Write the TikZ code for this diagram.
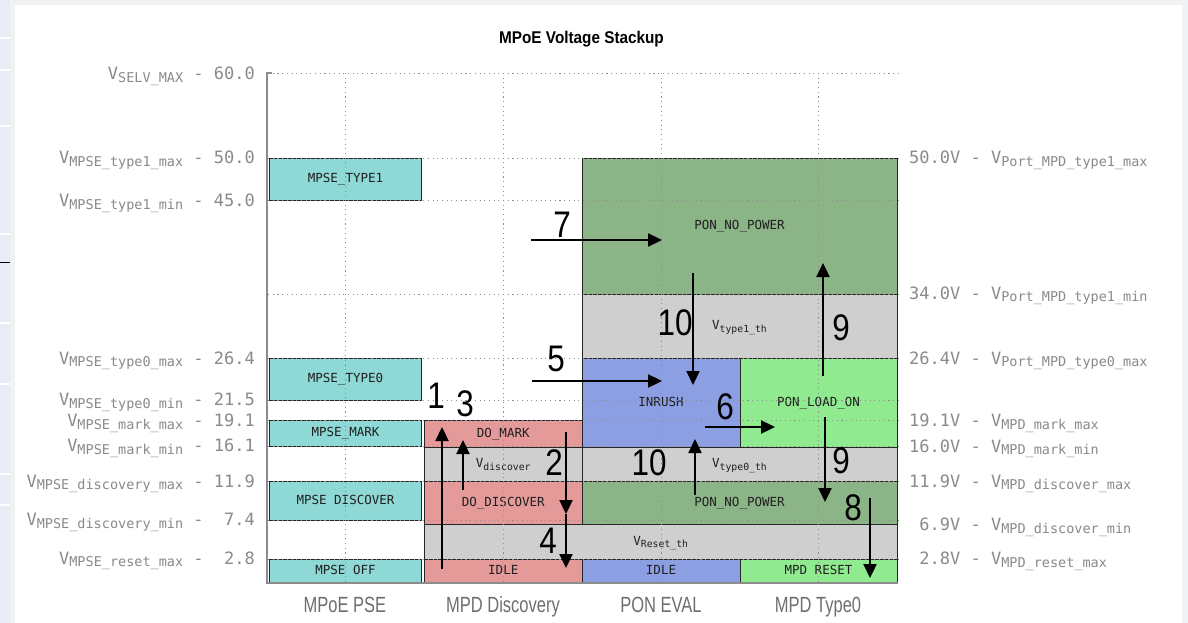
\documentclass[tikz,border=0pt]{standalone}
\usepackage{fontspec}
\usepackage{graphicx}
\setmainfont{Liberation Sans}
\newfontfamily\labelmono{DejaVu Sans Mono}
\usetikzlibrary{arrows.meta}

% fill colours of the state bands
\definecolor{pse}{HTML}{8ED9D6}
\definecolor{disc}{HTML}{E59A9A}
\definecolor{thr}{HTML}{CFCFCF}
\definecolor{nopwr}{HTML}{8BB487}
\definecolor{inr}{HTML}{8C9FE3}
\definecolor{loadon}{HTML}{90EA90}
% frame and text greys
\definecolor{axisgray}{HTML}{8C8C8C}
\definecolor{tickgray}{HTML}{8A8A8A}
\definecolor{gridgray}{HTML}{8F8F8F}
\definecolor{colgray}{HTML}{6E6E6E}
\definecolor{sidebar}{HTML}{E8ECF4}
\definecolor{pageframe}{HTML}{F1F2F4}

% subscripted voltage names
\newcommand{\subtxt}[1]{\raisebox{-2.7pt}{\fontsize{13.5}{14}\selectfont #1}}
\newcommand{\thsub}[1]{V\raisebox{-2.2pt}{\fontsize{9.8}{10}\selectfont #1}}

\tikzset{
  stbox/.style={draw=black!85, line width=0.9pt, inner sep=0pt,
    font=\labelmono\fontsize{12.5}{14}\selectfont, text=black!88,
    text height=9pt, text depth=2pt},
  leftlbl/.style={anchor=base east, inner sep=0pt, text=tickgray,
    font=\labelmono\fontsize{17}{20}\selectfont},
  rightlbl/.style={anchor=base west, inner sep=0pt, text=tickgray,
    font=\labelmono\fontsize{17}{20}\selectfont},
  collbl/.style={anchor=base, inner sep=0pt, text=colgray,
    font=\fontsize{22}{24}\selectfont},
  numlbl/.style={inner sep=0pt, font=\fontsize{37}{40}\selectfont},
  gridline/.style={gridgray, line width=0.9pt, dash pattern=on 1.1pt off 3.6pt},
  moveflow/.style={line width=2.3pt, -{Triangle[length=14pt,width=13pt]}},
}

% state band: name, colour, x1, y1, x2, y2, text
\newcommand\stband[7]{%
  \pgfmathsetmacro\bw{#5-#3}\pgfmathsetmacro\bh{#6-#4}%
  \pgfmathsetmacro\bx{(#3+#5)/2}\pgfmathsetmacro\by{(#4+#6)/2}%
  \node[stbox, fill=#2, minimum width=\bw pt, minimum height=\bh pt] (#1) at (\bx,\by) {#7};}

\begin{document}
\begin{tikzpicture}[x=1pt, y=-1pt]
\useasboundingbox (0,0) rectangle (1188,623);

% window frame
\fill[pageframe] (0,0) rectangle (1188,623);
\fill[white] (15,5) rectangle (1182,623);
\fill[sidebar] (0,0) rectangle (10,623);
\foreach \s in {37,69,125,233,322,383,473,504}
  \fill[white] (0,\s) rectangle (10,\s+2);
\draw[black, line width=1pt] (0,262) -- (10,262);

% title
\node[inner sep=0pt, anchor=base, font=\bfseries\fontsize{17}{20}\selectfont] (title)
  at (581.5,44) {\scalebox{0.9}[1]{MPoE Voltage Stackup}};

% MPoE PSE column
\stband{ptype1}{pse}{269.5}{158}{421.5}{200.5}{MPSE\_TYPE1}
\stband{ptype0}{pse}{269.5}{358.6}{421.5}{400.25}{MPSE\_TYPE0}
\stband{pmark}{pse}{269.5}{420.65}{421.5}{446.15}{MPSE\_MARK}
\stband{pdisc}{pse}{269.5}{481.85}{421.5}{520.1}{MPSE DISCOVER}
\stband{poff}{pse}{269.5}{559.2}{421.5}{583}{MPSE OFF}

% MPD Discovery column
\stband{domark}{disc}{424.5}{420.65}{582}{447}{DO\_MARK}
\stband{vdisc}{thr}{424.5}{447}{582}{481.85}{\thsub{discover}}
\stband{dodisc}{disc}{424.5}{481.85}{582}{524.35}{DO\_DISCOVER}
\stband{vreset}{thr}{424.5}{524.35}{897}{559.2}{\thsub{Reset\_th}}
\stband{idlea}{disc}{424.5}{559.2}{582}{583}{IDLE}

% PON EVAL and MPD Type0 columns
\stband{nopwra}{nopwr}{582}{158}{897}{294}{PON\_NO\_POWER}
\stband{vtype1}{thr}{582}{294}{897}{358.6}{\thsub{type1\_th}}
\stband{inrush}{inr}{582}{358.6}{740}{447}{INRUSH}
\stband{loadon}{loadon}{740}{358.6}{897}{447}{PON\_LOAD\_ON}
\stband{vtype0}{thr}{582}{447}{897}{481.85}{\thsub{type0\_th}}
\stband{nopwrb}{nopwr}{582}{481.85}{897}{524.35}{PON\_NO\_POWER}
\stband{idleb}{inr}{582}{559.2}{740}{583}{IDLE}
\stband{mpdreset}{loadon}{740}{559.2}{897}{583}{MPD RESET}

% grid
\foreach \gy in {73,158,200.5,294,358.6,400.25,420.65,446.15,481.85,520.1,559.2}
  \draw[gridline] (268,\gy) -- (898,\gy);
\foreach \gx in {345,503,661,818}
  \draw[gridline] (\gx,73) -- (\gx,583);

% axes
\draw[axisgray, line width=1.3pt] (272,73) -- (267,73) -- (267,583) -- (898,583);

% left scale
\node[leftlbl] (l60) at (255,79.5) {V\subtxt{SELV\_MAX} - 60.0};
\node[leftlbl] (l50) at (255,164) {V\subtxt{MPSE\_type1\_max} - 50.0};
\node[leftlbl] (l45) at (255,206.5) {V\subtxt{MPSE\_type1\_min} - 45.0};
\node[leftlbl] (l264) at (255,364) {V\subtxt{MPSE\_type0\_max} - 26.4};
\node[leftlbl] (l215) at (255,405.5) {V\subtxt{MPSE\_type0\_min} - 21.5};
\node[leftlbl] (l191) at (255,426.5) {V\subtxt{MPSE\_mark\_max} - 19.1};
\node[leftlbl] (l161) at (255,451.5) {V\subtxt{MPSE\_mark\_min} - 16.1};
\node[leftlbl] (l119) at (255,487) {V\subtxt{MPSE\_discovery\_max} - 11.9};
\node[leftlbl] (l74) at (255,525.5) {V\subtxt{MPSE\_discovery\_min} - \hphantom{0}7.4};
\node[leftlbl] (l28) at (255,564) {V\subtxt{MPSE\_reset\_max} - \hphantom{0}2.8};

% right scale
\node[rightlbl] (r50) at (909,163.5) {50.0V - V\subtxt{Port\_MPD\_type1\_max}};
\node[rightlbl] (r34) at (909,299) {34.0V - V\subtxt{Port\_MPD\_type1\_min}};
\node[rightlbl] (r264) at (909,364) {26.4V - V\subtxt{Port\_MPD\_type0\_max}};
\node[rightlbl] (r191) at (909,426.5) {19.1V - V\subtxt{MPD\_mark\_max}};
\node[rightlbl] (r160) at (909,452) {16.0V - V\subtxt{MPD\_mark\_min}};
\node[rightlbl] (r119) at (909,487) {11.9V - V\subtxt{MPD\_discover\_max}};
\node[rightlbl] (r69) at (909,530.5) {\hphantom{0}6.9V - V\subtxt{MPD\_discover\_min}};
\node[rightlbl] (r28) at (909,564.5) {\hphantom{0}2.8V - V\subtxt{MPD\_reset\_max}};

% column names
\node[collbl] (cpse) at (345,612) {\scalebox{0.75}[1]{MPoE PSE}};
\node[collbl] (cdisc) at (503,612) {\scalebox{0.75}[1]{MPD Discovery}};
\node[collbl] (ceval) at (661,612) {\scalebox{0.75}[1]{PON EVAL}};
\node[collbl] (ctype) at (818,612) {\scalebox{0.75}[1]{MPD Type0}};

% transition end points
\coordinate (a1s) at (442,569);  \coordinate (a1e) at (442,427);
\coordinate (a3s) at (463,490);  \coordinate (a3e) at (463,440);
\coordinate (a2s) at (566,432);  \coordinate (a2e) at (566,514);
\coordinate (a4e) at (566,568);
\coordinate (a5s) at (532,381);  \coordinate (a5e) at (662,381);
\coordinate (a7s) at (531,240);  \coordinate (a7e) at (662,240);
\coordinate (a6s) at (705,427);  \coordinate (a6e) at (775,427);
\coordinate (a10s) at (693,273); \coordinate (a10e) at (693,385);
\coordinate (b10s) at (695,495); \coordinate (b10e) at (695,439);
\coordinate (a9s) at (823,376);  \coordinate (a9e) at (823,263);
\coordinate (b9s) at (825,417);  \coordinate (b9e) at (825,502);
\coordinate (a8s) at (870,498);  \coordinate (a8e) at (870,578);

% transitions
\draw[moveflow] (a1s) -- (a1e);
\draw[moveflow] (a3s) -- (a3e);
\draw[moveflow] (a2s) -- (a2e);
\draw[moveflow] (a2e) -- (a4e);
\draw[moveflow] (a5s) -- (a5e);
\draw[moveflow] (a7s) -- (a7e);
\draw[moveflow] (a6s) -- (a6e);
\draw[moveflow] (a10s) -- (a10e);
\draw[moveflow] (b10s) -- (b10e);
\draw[moveflow] (a9s) -- (a9e);
\draw[moveflow] (b9s) -- (b9e);
\draw[moveflow] (a8s) -- (a8e);

% transition numbers
\node[numlbl] (n1) at (436,395.5) {\scalebox{0.85}[1]{1}};
\node[numlbl] (n3) at (465,404) {\scalebox{0.85}[1]{3}};
\node[numlbl] (n2) at (554,463) {\scalebox{0.85}[1]{2}};
\node[numlbl] (n4) at (548,541) {\scalebox{0.85}[1]{4}};
\node[numlbl] (n5) at (556,359) {\scalebox{0.85}[1]{5}};
\node[numlbl] (n7) at (562,225) {\scalebox{0.85}[1]{7}};
\node[numlbl] (n10a) at (675,323) {\scalebox{0.85}[1]{10}};
\node[numlbl] (n9a) at (841,328) {\scalebox{0.85}[1]{9}};
\node[numlbl] (n10b) at (649,463) {\scalebox{0.85}[1]{10}};
\node[numlbl] (n6) at (725,407) {\scalebox{0.85}[1]{6}};
\node[numlbl] (n9b) at (841,461) {\scalebox{0.85}[1]{9}};
\node[numlbl] (n8) at (853,508) {\scalebox{0.85}[1]{8}};
\end{tikzpicture}
\end{document}
